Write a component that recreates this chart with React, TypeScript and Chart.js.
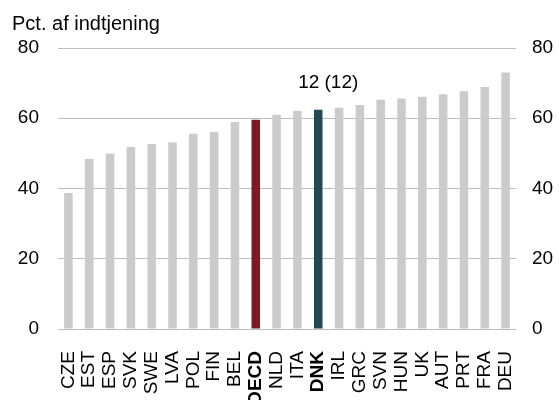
import React, { useEffect, useRef } from "react";
import { Chart, registerables } from "chart.js";

Chart.register(...registerables);

const categories = ["CZE", "EST", "ESP", "SVK", "SWE", "LVA", "POL", "FIN", "BEL", "OECD", "NLD", "ITA", "DNK", "IRL", "GRC", "SVN", "HUN", "UK", "AUT", "PRT", "FRA", "DEU"];
const values = [38.7, 48.4, 50.0, 51.8, 52.7, 53.2, 55.6, 56.1, 58.9, 59.6, 61.0, 62.1, 62.4, 63.0, 63.8, 65.3, 65.6, 66.1, 66.8, 67.7, 68.9, 73.0];
const yTicks = [0, 20, 40, 60, 80];
const boldCategories = ["OECD", "DNK"];
const yTitle = "Pct. af indtjening";
const dnkLabel = "12 (12)";
const dnkName = "DNK";

const GREY = "#cbcbcb";
const OECD_COLOR = "#7a1c1f";
const DNK_COLOR = "#1f4b55";
const FONT = "'Liberation Sans', Arial, sans-serif";

export default function App() {
  const ref = useRef<HTMLCanvasElement | null>(null);
  useEffect(() => {
    if (!ref.current) return;
    const colors = categories.map((c) => (c === "OECD" ? OECD_COLOR : c === "DNK" ? DNK_COLOR : GREY));
    const annot = {
      id: "annot",
      afterDraw(chart: any) {
        const ctx = chart.ctx;
        ctx.save();
        ctx.fillStyle = "#000";
        ctx.font = `20px ${FONT}`;
        ctx.textAlign = "left";
        ctx.textBaseline = "alphabetic";
        ctx.fillText(yTitle, 12, 30);
        const i = categories.indexOf(dnkName);
        const x = chart.scales.x.getPixelForValue(i);
        const y = chart.scales.y.getPixelForValue(values[i]);
        ctx.font = `19px ${FONT}`;
        ctx.textAlign = "center";
        ctx.textBaseline = "middle";
        ctx.fillText(dnkLabel, x + 10, y - 27);
        ctx.restore();
      },
    };
    const chart = new Chart(ref.current, {
      type: "bar",
      data: {
        labels: categories,
        datasets: [
          {
            data: values,
            backgroundColor: colors,
            barPercentage: 0.41,
            categoryPercentage: 1,
          },
        ],
      },
      options: {
        animation: false,
        responsive: false,
        layout: { padding: { top: 48, left: 0, right: 0, bottom: 0 } },
        plugins: { legend: { display: false }, tooltip: { enabled: false } },
        scales: {
          x: {
            grid: { display: false, drawTicks: false },
            border: { display: false },
            ticks: {
              color: "#000",
              maxRotation: 90,
              minRotation: 90,
              autoSkip: false,
              padding: 22,
              font: (c: any) => ({
                family: FONT,
                size: 19,
                weight: boldCategories.includes(categories[c.index]) ? "bold" : "normal",
              }),
            },
            afterFit: (s: any) => {
              s.height = 71;
            },
          },
          y: {
            min: 0,
            max: 80,
            position: "left",
            afterBuildTicks: (s: any) => {
              s.ticks = yTicks.map((v) => ({ value: v }));
            },
            grid: { color: "#bdbdbd", lineWidth: 1, drawTicks: false },
            border: { display: false },
            ticks: { color: "#000", padding: 19, font: { family: FONT, size: 19 } },
            afterFit: (s: any) => {
              s.width = 58;
            },
          },
          y2: {
            min: 0,
            max: 80,
            position: "right",
            afterBuildTicks: (s: any) => {
              s.ticks = yTicks.map((v) => ({ value: v }));
            },
            grid: { display: false, drawTicks: false },
            border: { display: false },
            ticks: { color: "#000", padding: 16, font: { family: FONT, size: 19 } },
            afterFit: (s: any) => {
              s.width = 43;
            },
          },
        },
      },
      plugins: [annot],
    });
    return () => chart.destroy();
  }, []);
  return (
    <div style={{ position: "fixed", left: 0, top: 0, width: 559, height: 400, background: "#fff" }}>
      <canvas ref={ref} width={559} height={400} style={{ display: "block" }} />
    </div>
  );
}
